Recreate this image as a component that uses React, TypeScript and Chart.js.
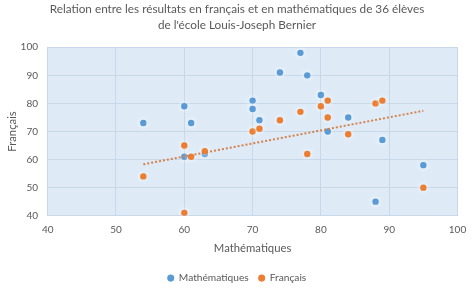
import { useEffect, useRef } from "react";
import { Chart, registerables } from "chart.js";

Chart.register(...registerables);

// Élèves — série « Mathématiques » (bleu)
const mathX = [60, 54, 60, 61, 63, 70, 70, 71, 74, 77, 78, 80, 81, 84, 89, 88, 95];
const mathY = [79, 73, 61, 73, 62, 81, 78, 74, 91, 98, 90, 83, 70, 75, 67, 45, 58];

// Élèves — série « Français » (orange)
const frX = [60, 61, 54, 60, 63, 70, 71, 74, 77, 78, 80, 81, 81, 84, 88, 89, 95];
const frY = [65, 61, 54, 41, 63, 70, 71, 74, 77, 62, 79, 81, 75, 69, 80, 81, 50];

const seriesLabels = ["Mathématiques", "Français"];
const titleLines = [
  "Relation entre les résultats en français et en mathématiques de 36 élèves",
  "de l'école Louis-Joseph Bernier",
];
const xTitle = "Mathématiques";
const yTitle = "Français";
const axisMin = 40;
const axisMax = 100;
const axisStep = 10;

const FONT = "Lato, 'Liberation Sans', sans-serif";
const TEXT = "#595959";
const BLUE = "#5B9BD5";
const ORANGE = "#ED7D31";
const GRID = "#C9D8E8";

// Least-squares trend line over the orange series
function linearTrend(xs: number[], ys: number[]) {
  const n = xs.length;
  const mx = xs.reduce((a, b) => a + b, 0) / n;
  const my = ys.reduce((a, b) => a + b, 0) / n;
  let sxy = 0;
  let sxx = 0;
  for (let i = 0; i < n; i++) {
    sxy += (xs[i] - mx) * (ys[i] - my);
    sxx += (xs[i] - mx) * (xs[i] - mx);
  }
  const slope = sxy / sxx;
  const x0 = Math.min(...xs);
  const x1 = Math.max(...xs);
  return [
    { x: x0, y: my + slope * (x0 - mx) },
    { x: x1, y: my + slope * (x1 - mx) },
  ];
}

const toPoints = (xs: number[], ys: number[]) => xs.map((x, i) => ({ x, y: ys[i] }));

const plotBackground = {
  id: "plotBackground",
  beforeDraw(chart: any) {
    const { ctx, chartArea } = chart;
    ctx.save();
    ctx.fillStyle = "#DEEBF7";
    ctx.fillRect(chartArea.left, chartArea.top, chartArea.width, chartArea.height);
    ctx.restore();
  },
};

// Soft white glow behind the scatter markers
const markerGlow = {
  id: "markerGlow",
  beforeDatasetDraw(chart: any, args: any) {
    if (args.index > 1) return;
    const ctx = chart.ctx;
    ctx.save();
    ctx.shadowColor = "rgba(255,255,255,0.95)";
    ctx.shadowBlur = 5;
  },
  afterDatasetDraw(chart: any, args: any) {
    if (args.index > 1) return;
    chart.ctx.restore();
  },
};

export default function App() {
  const canvasRef = useRef<HTMLCanvasElement | null>(null);

  useEffect(() => {
    if (!canvasRef.current) return;
    const chart = new Chart(canvasRef.current, {
      type: "scatter",
      data: {
        datasets: [
          {
            label: seriesLabels[0],
            data: toPoints(mathX, mathY),
            backgroundColor: BLUE,
            borderColor: BLUE,
            pointRadius: 3.2,
            pointBorderWidth: 0,
            order: 2,
          },
          {
            label: seriesLabels[1],
            data: toPoints(frX, frY),
            backgroundColor: ORANGE,
            borderColor: ORANGE,
            pointRadius: 3.2,
            pointBorderWidth: 0,
            order: 1,
          },
          {
            type: "line",
            label: "trend",
            data: linearTrend(frX, frY),
            borderColor: "#D4814A",
            borderWidth: 2,
            borderDash: [2, 2],
            pointRadius: 0,
            fill: false,
            order: 0,
          } as any,
        ],
      },
      options: {
        responsive: false,
        animation: false,
        layout: { padding: 0 },
        plugins: {
          tooltip: { enabled: false },
          title: {
            display: true,
            text: titleLines,
            color: TEXT,
            font: { family: FONT, size: 11.75, weight: "normal", lineHeight: 1.36 },
            padding: { top: 1.5, bottom: 13.8 },
          },
          legend: {
            position: "bottom",
            maxHeight: 25,
            labels: {
              usePointStyle: true,
              pointStyle: "circle",
              boxWidth: 6,
              boxHeight: 5,
              padding: 10,
              color: TEXT,
              font: { family: FONT, size: 10.2 },
              filter: (item: any) => item.datasetIndex < 2,
              sort: (a: any, b: any) => a.datasetIndex - b.datasetIndex,
            },
          },
        },
        scales: {
          x: {
            type: "linear",
            min: axisMin,
            max: axisMax,
            ticks: { stepSize: axisStep, color: TEXT, padding: 7.8, font: { family: FONT, size: 10 } },
            grid: { color: GRID, drawTicks: false },
            border: { color: GRID },
            title: {
              display: true,
              text: xTitle,
              color: TEXT,
              font: { family: FONT, size: 11.3, lineHeight: 1.2 },
              padding: { top: 0, bottom: 8.2 },
            },
            afterFit: (scale: any) => {
              scale.height = 47.3;
            },
          },
          y: {
            type: "linear",
            min: axisMin,
            max: axisMax,
            ticks: { stepSize: axisStep, color: TEXT, padding: 9.7, font: { family: FONT, size: 10 } },
            grid: { color: GRID, drawTicks: false },
            border: { color: GRID },
            title: {
              display: true,
              text: yTitle,
              color: TEXT,
              font: { family: FONT, size: 11.3, lineHeight: 1.2 },
              padding: { top: 5.2, bottom: 0 },
            },
            afterFit: (scale: any) => {
              scale.width = 47.7;
            },
          },
          // empty right-hand margin beside the plot area
          yMargin: {
            type: "linear",
            position: "right",
            grid: { display: false },
            border: { display: false },
            ticks: { display: false },
            afterFit: (scale: any) => {
              scale.width = 13;
            },
          },
        },
      },
      plugins: [plotBackground, markerGlow],
    });
    return () => chart.destroy();
  }, []);

  return (
    <div style={{ position: "absolute", left: 0, top: 0, width: 474, height: 288 }}>
      <canvas ref={canvasRef} width={474} height={288} />
    </div>
  );
}
